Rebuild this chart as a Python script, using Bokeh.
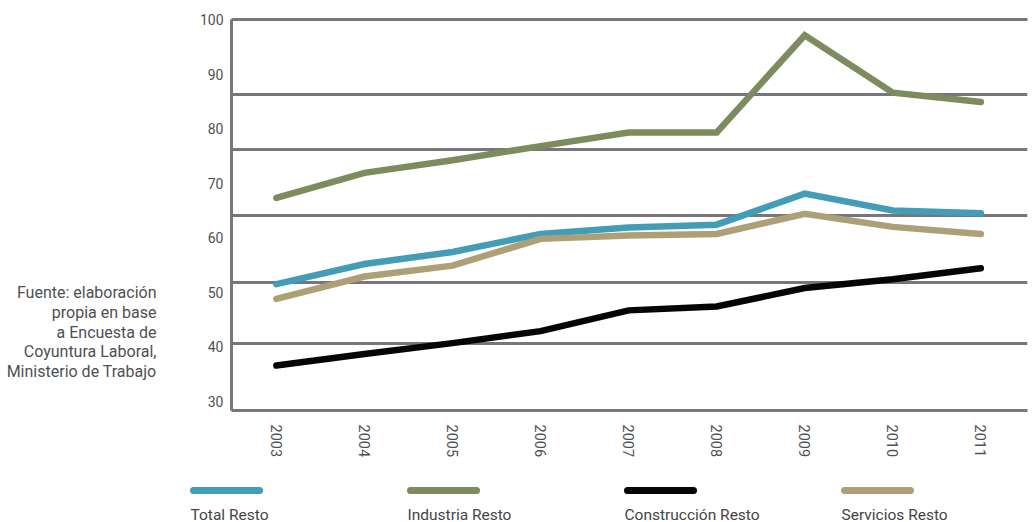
from bokeh.plotting import figure
from bokeh.models import FixedTicker, LinearAxis, Range1d, ColumnDataSource
from bokeh.layouts import column, row
from bokeh.embed import file_html
from bokeh.resources import INLINE
from bokeh.core.properties import value

# ---- data ----
years = [2003, 2004, 2005, 2006, 2007, 2008, 2009, 2010, 2011]
total_resto = [51.5, 55.2, 57.4, 60.7, 61.9, 62.4, 68.1, 65.0, 64.5]
industria_resto = [67.3, 71.9, 74.2, 76.8, 79.3, 79.3, 97.1, 86.6, 84.9]
construccion_resto = [36.6, 38.7, 40.7, 42.9, 46.7, 47.4, 50.8, 52.4, 54.4]
servicios_resto = [48.8, 52.9, 54.9, 59.8, 60.4, 60.7, 64.4, 62.0, 60.7]

series_names = ["Total Resto", "Industria Resto", "Construcción Resto", "Servicios Resto"]
series_values = [total_resto, industria_resto, construccion_resto, servicios_resto]
series_colors = ["#449DB7", "#7D8B5E", "#050505", "#ADA077"]

y_tick_labels = [30, 40, 50, 60, 70, 80, 90, 100]
grid_values = [40.6, 51.8, 64.0, 76.2, 86.3]

source_lines = ["Fuente: elaboración", "propia en base", "a Encuesta de",
                "Coyuntura Laboral,", "Ministerio de Trabajo"]

FONT = "Roboto"
GRAY = "#78757C"
TEXT = "#4f4f52"

W = 1033
H_TOP = 462
H_LEG = 522 - H_TOP
W_NOTE = 170
W_MAIN = W - W_NOTE

# ---- main chart ----
p = figure(width=W_MAIN, height=H_TOP, x_range=Range1d(2002.49, 2011.53),
           y_range=Range1d(28.35, 100), output_backend="svg", toolbar_location=None,
           min_border_left=231 - W_NOTE, min_border_right=6, min_border_top=19,
           min_border_bottom=H_TOP - 410)
p.frame_align = False
p.outline_line_color = None
p.background_fill_color = "white"
p.border_fill_color = "white"

for ax in (p.xaxis[0], p.yaxis[0]):
    ax.axis_line_color = GRAY
    ax.axis_line_width = 3
    ax.major_tick_line_color = None
    ax.minor_tick_line_color = None
    ax.major_tick_out = 0
    ax.major_tick_in = 0
    ax.major_label_text_font = FONT
    ax.major_label_text_color = TEXT
    ax.major_label_text_font_size = "14px"

p.yaxis.ticker = FixedTicker(ticks=y_tick_labels)
p.yaxis.major_label_standoff = 8
p.xaxis.ticker = FixedTicker(ticks=years)
p.xaxis.major_label_orientation = "vertical"
p.xaxis.major_label_standoff = 14
p.xaxis.major_label_text_font_size = "14.5px"

top_axis = LinearAxis(ticker=FixedTicker(ticks=[]), axis_line_color=GRAY, axis_line_width=3,
                      major_tick_line_color=None, minor_tick_line_color=None,
                      major_label_text_font_size="0px")
p.add_layout(top_axis, "above")

p.xgrid.visible = False
p.ygrid.ticker = FixedTicker(ticks=grid_values)
p.ygrid.grid_line_color = GRAY
p.ygrid.grid_line_width = 3

for name, vals, col in zip(series_names, series_values, series_colors):
    src = ColumnDataSource(dict(x=years, y=vals))
    p.line("x", "y", source=src, line_color=col, line_width=6.5,
           line_cap="round", line_join="miter")

# ---- source note (left) ----
note = figure(width=W_NOTE, height=H_TOP, x_range=Range1d(0, W_NOTE), y_range=Range1d(H_TOP, 0),
              output_backend="svg", toolbar_location=None, x_axis_type=None, y_axis_type=None,
              min_border_left=0, min_border_right=0, min_border_top=0, min_border_bottom=0)
note.frame_align = False
note.outline_line_color = None
note.grid.visible = False
note.text(x=[156] * len(source_lines), y=[292 + 19.8 * i for i in range(len(source_lines))],
          text=source_lines, text_font=value(FONT), text_font_size="16px",
          text_color=TEXT, text_align="right", text_baseline="middle")

# ---- legend (bottom) ----
lg = figure(width=W, height=H_LEG, x_range=Range1d(0, W), y_range=Range1d(H_LEG, 0),
            output_backend="svg", toolbar_location=None, x_axis_type=None, y_axis_type=None,
            min_border_left=0, min_border_right=0, min_border_top=0, min_border_bottom=0)
lg.frame_align = False
lg.outline_line_color = None
lg.grid.visible = False

xs0 = [190 + 217 * i for i in range(len(series_names))]
lg.segment(x0=[x + 3 for x in xs0], y0=[490 - H_TOP] * 4, x1=[x + 69 for x in xs0],
           y1=[490 - H_TOP] * 4, line_color=series_colors, line_width=7, line_cap="round")
lg.text(x=xs0, y=[514 - H_TOP] * 4, text=series_names, text_font=value(FONT),
        text_font_size="15.5px", text_color="#444446", text_baseline="alphabetic",
        text_align="left")

layout = column(row(note, p, spacing=0), lg, spacing=0)
open("out.html", "w").write(file_html(layout, INLINE))
